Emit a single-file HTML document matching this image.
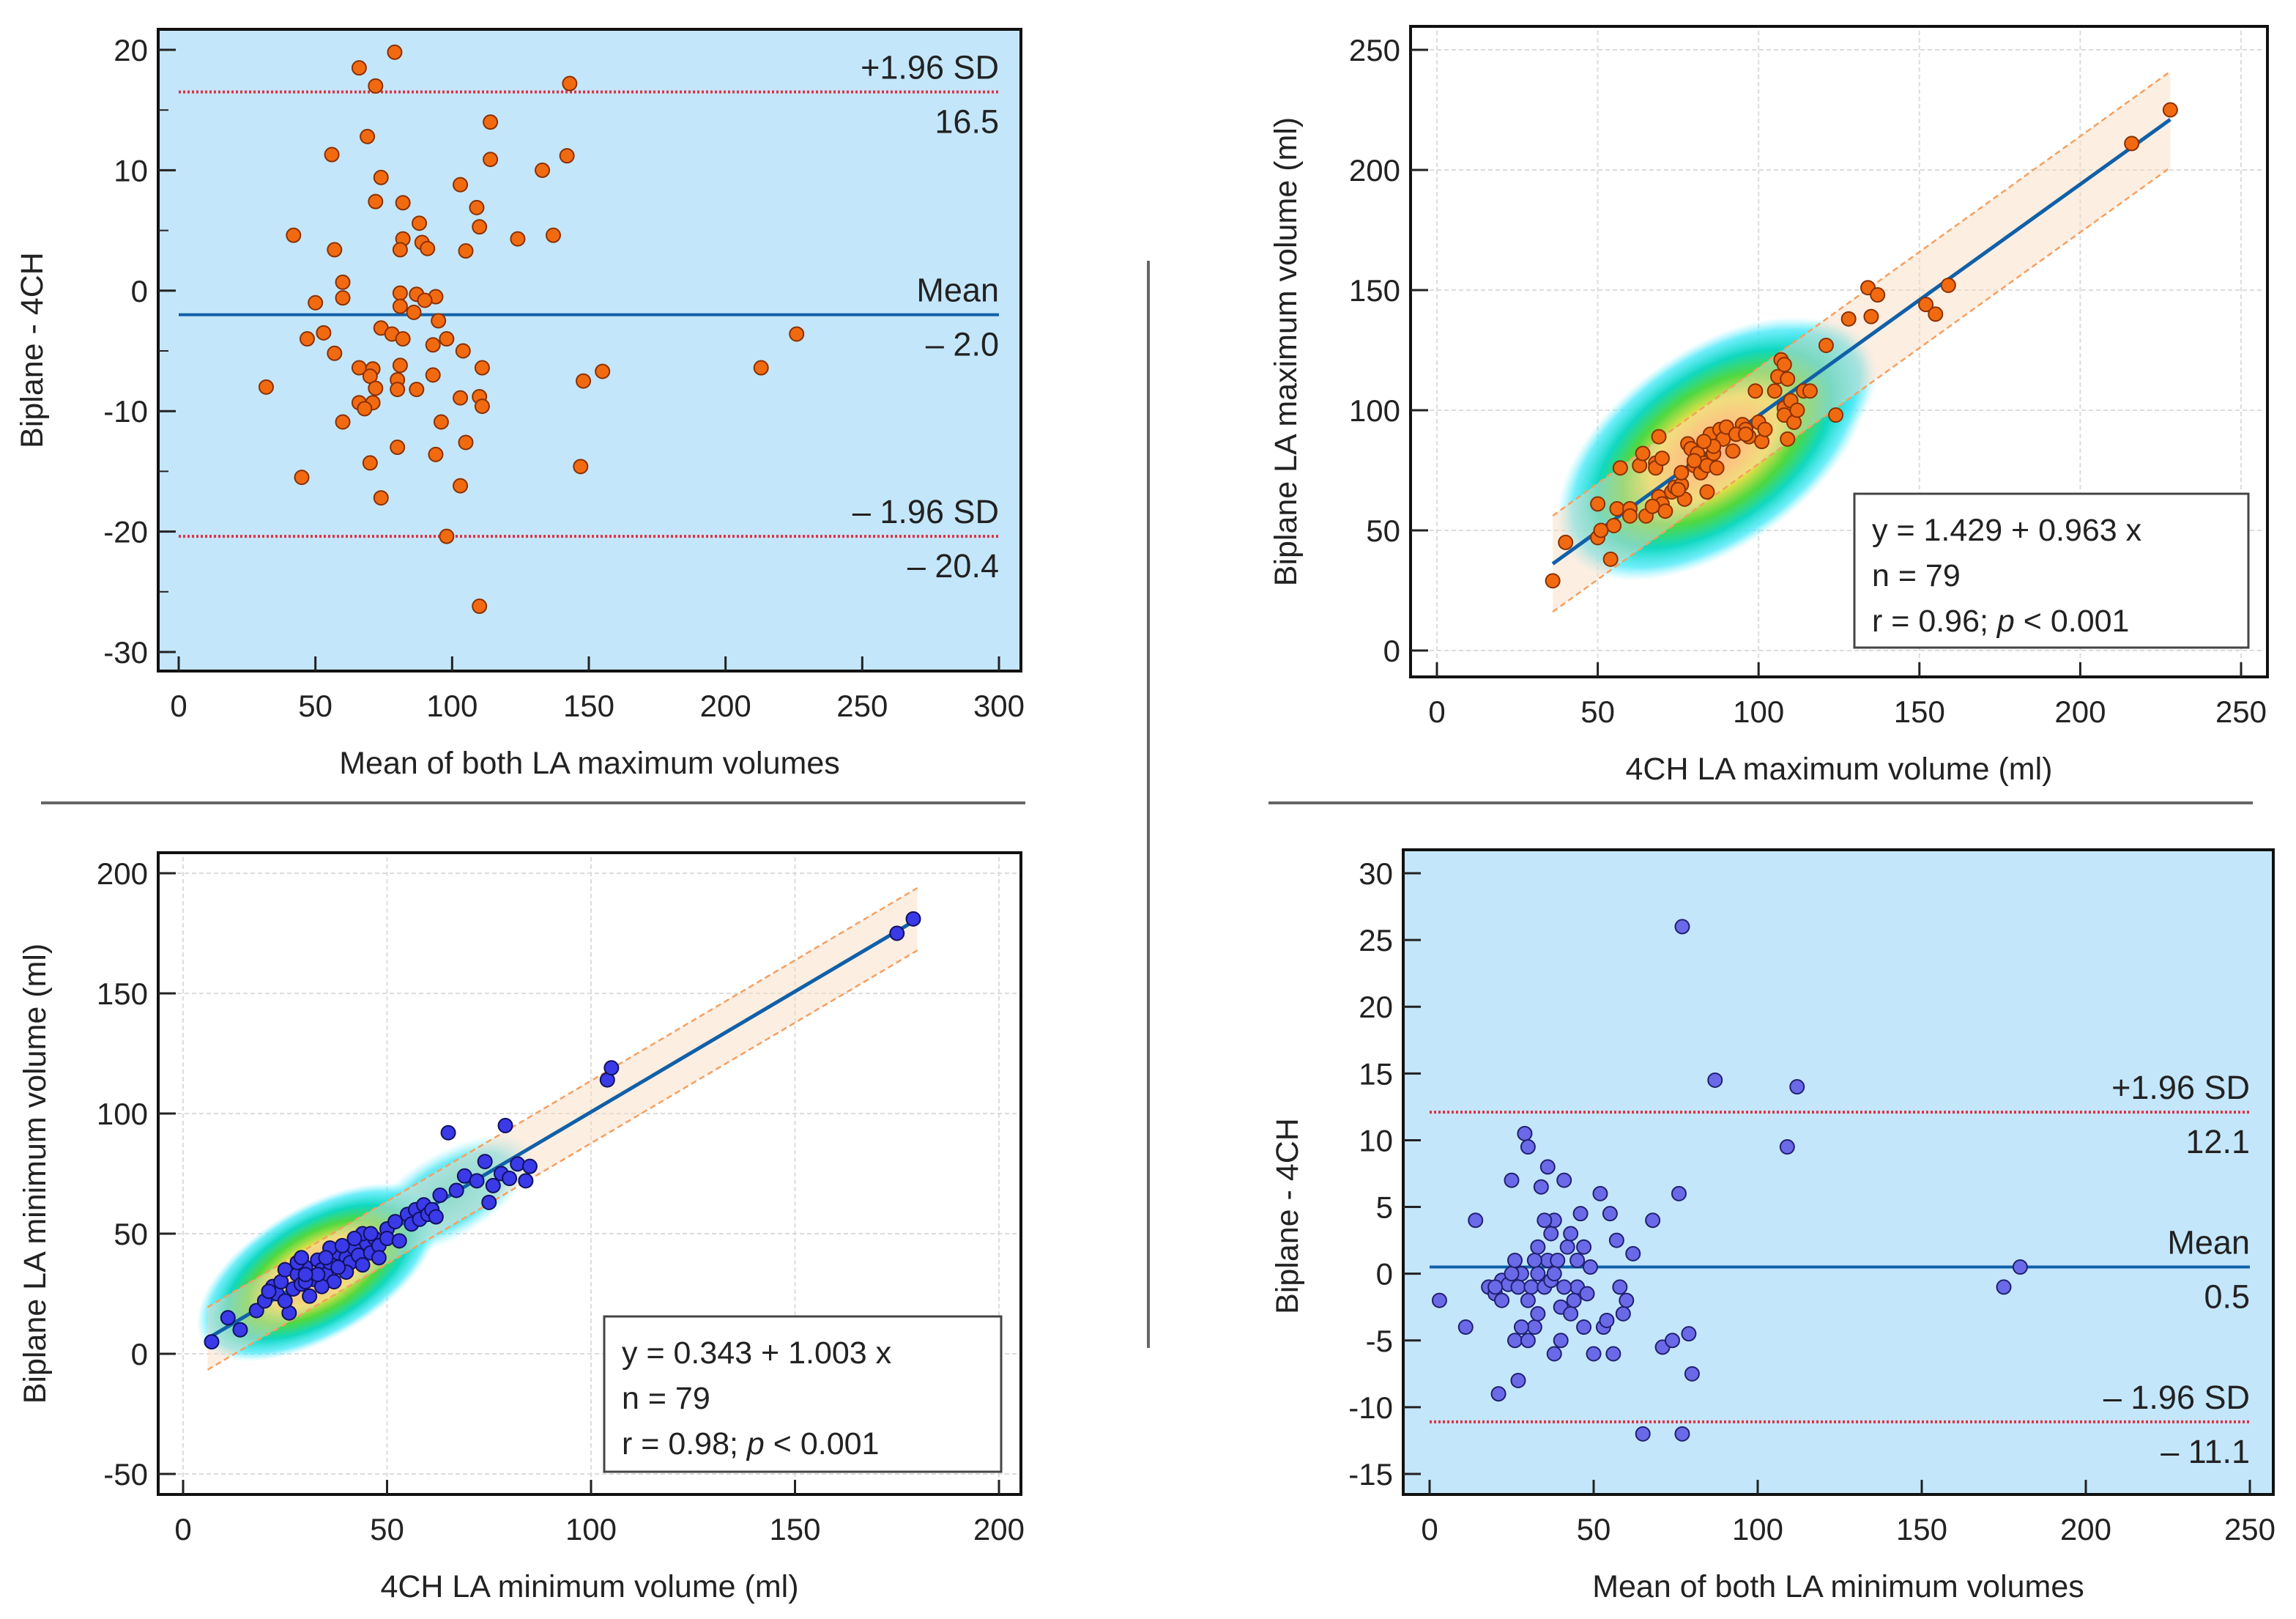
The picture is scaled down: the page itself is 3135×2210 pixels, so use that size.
<!DOCTYPE html>
<html><head><meta charset="utf-8"><style>
html,body{margin:0;padding:0;background:#fff;}
svg{display:block;font-family:"Liberation Sans",Arial,sans-serif;}
</style></head><body>
<svg id="fig" width="3135" height="2210" viewBox="0 0 3135 2210" xmlns="http://www.w3.org/2000/svg">
<defs>
<radialGradient id="heat" cx="50%" cy="50%" r="50%">
<stop offset="0" stop-color="#ff8a50"/>
<stop offset="0.2" stop-color="#ffb050"/>
<stop offset="0.4" stop-color="#e8e048"/>
<stop offset="0.58" stop-color="#50d840"/>
<stop offset="0.75" stop-color="#10d8c0"/>
<stop offset="0.9" stop-color="#40e8f8" stop-opacity="0.75"/>
<stop offset="1" stop-color="#80f0ff" stop-opacity="0"/>
</radialGradient>
<radialGradient id="heat2" cx="50%" cy="50%" r="50%">
<stop offset="0" stop-color="#20d8d0" stop-opacity="0.9"/>
<stop offset="0.7" stop-color="#30e0f0" stop-opacity="0.7"/>
<stop offset="1" stop-color="#80f0ff" stop-opacity="0"/>
</radialGradient>
</defs>
<g id="root"></g>
</svg>
<script>
// ---------- data ----------
const p1X=[66,79,72,143,114,69,56,114,142,133,74,103,72,82,109,88,110,42,82,89,124,137,57,81,91,105,60,60,50,81,87,94,90,81,86,95,74,78,53,47,82,98,93,104,57,66,71,81,111,213,226,155,70,93,148,72,80,80,87,110,66,71,68,103,111,60,96,105,80,94,70,147,45,103,74,98,110,32];
const p1Y=[18.5,19.8,17,17.2,14,12.8,11.3,10.9,11.2,10,9.4,8.8,7.4,7.3,6.9,5.6,5.3,4.6,4.3,4,4.3,4.6,3.4,3.4,3.5,3.3,0.7,-0.6,-1,-0.2,-0.3,-0.5,-0.8,-1.3,-1.8,-2.5,-3.1,-3.6,-3.5,-4,-4,-4,-4.5,-5,-5.2,-6.4,-6.5,-6.2,-6.4,-6.4,-3.6,-6.7,-7.1,-7,-7.5,-8.1,-7.4,-8.2,-8.2,-8.8,-9.3,-9.3,-9.8,-8.9,-9.6,-10.9,-10.9,-12.6,-13,-13.6,-14.3,-14.6,-15.5,-16.2,-17.2,-20.4,-26.2,-8];
const p1Lines=[16.5,-2.0,-20.4];

const p2X=[36,40,50,50,51,54,55,56,57,60,60,63,64,65,68,68,69,69,70,71,73,74,76,76,77,78,79,80,81,82,83,84,84,85,86,87,88,89,90,92,95,96,97,99,100,101,102,105,106,107,108,108,108,109,109,110,111,112,114,116,121,124,128,134,135,137,152,155,159,216,228,80,86,93,75,67,83,96,70];
const p2Y=[29,45,47,61,50,38,52,59,76,59,56,77,82,56,78,76,89,64,61,58,66,68,69,74,63,86,84,77,82,74,78,66,77,90,82,76,92,88,93,83,94,92,89,108,95,87,92,108,114,121,119,101,98,88,113,104,95,100,108,108,127,98,138,151,139,148,144,140,152,211,225,79,85,90,67,60,87,90,80];
const p2Fit=[1.429,0.963];

const p3X=[7,11,14,18,20,22,23,24,25,26,27,28,29,30,31,32,33,34,35,36,37,38,39,40,41,42,43,44,45,46,47,48,50,50,52,53,55,56,57,58,59,60,61,62,63,65,67,69,72,74,75,76,78,79,80,82,84,85,104,105,175,179,30,34,28,36,40,44,25,21,33,38,46,48,42,29,35,39,30];
const p3Y=[5,15,10,18,22,28,25,30,35,17,27,33,29,36,24,31,39,35,33,38,30,42,36,40,38,44,41,37,46,42,48,45,52,48,55,47,58,54,60,56,62,58,60,57,66,92,68,74,72,80,63,70,75,95,73,79,72,78,114,119,175,181,30,28,38,44,34,50,22,26,33,36,50,40,48,40,40,45,33];
const p3Fit=[0.343,1.003];

const p4X=[3,11,14,18,20,21,22,24,25,26,27,27,28,29,30,30,31,32,33,33,34,35,36,36,37,37,38,38,39,40,40,41,42,43,44,45,46,47,48,49,50,52,53,54,55,56,57,58,59,62,65,68,71,74,76,77,77,79,80,87,109,112,175,180,25,33,41,30,35,28,45,22,60,38,20,32,43,26,47];
const p4Y=[-2,-4,4,-1,-1.5,-9,-0.5,-0.8,7,-5,-1,-8,0,10.5,9.5,-5,-1,-4,-3,0,6.5,-1,1,8,3,-0.5,4,-6,1,-2.5,-5,7,2,-3,-2,-1,4.5,2,-1.5,0.5,-6,6,-4,-3.5,4.5,-6,2.5,-1,-3,1.5,-12,4,-5.5,-5,6,26,-12,-4.5,-7.5,14.5,9.5,14,-1,0.5,0,2,-1,-2,4,-4,1,-2,-2,0,-1,1,3,1,-4];
const p4Lines=[12.1,0.5,-11.1];

const p1XTicks=[0,50,100,150,200,250,300];
const p1YTicks=[20,10,0,-10,-20,-30];
const p2XTicks=[0,50,100,150,200,250];
const p2YTicks=[0,50,100,150,200,250];
const p3XTicks=[0,50,100,150,200];
const p3YTicks=[-50,0,50,100,150,200];
const p4XTicks=[0,50,100,150,200,250];
const p4YTicks=[30,25,20,15,10,5,0,-5,-10,-15];

// ---------- helpers ----------
const NS="http://www.w3.org/2000/svg";
const root=document.getElementById('root');
function mk(tag,attrs,parent){const e=document.createElementNS(NS,tag);for(const k in attrs)e.setAttribute(k,attrs[k]);(parent||root).appendChild(e);return e;}
function scale(d0,d1,r0,r1){return v=>r0+(v-d0)/(d1-d0)*(r1-r0);}

function panel(cfg){
  const g=mk('g',{});
  
  
  const sx=scale(cfg.xd[0],cfg.xd[1],cfg.xr[0],cfg.xr[1]);
  const sy=scale(cfg.yd[0],cfg.yd[1],cfg.yr[0],cfg.yr[1]);
  const b=cfg.box;
  const bg=mk('rect',{x:b[0],y:b[1],width:b[2]-b[0],height:b[3]-b[1],fill:cfg.bg},g);
  
  
  if(cfg.grid){
    cfg.xt.forEach(t=>{const l=mk('line',{x1:sx(t),x2:sx(t),y1:b[1]+6,y2:b[3]-6,stroke:'#dcdcdc','stroke-width':2,'stroke-dasharray':'6 4'},g);
      });
    cfg.yt.forEach(t=>{const l=mk('line',{x1:b[0]+6,x2:b[2]-6,y1:sy(t),y2:sy(t),stroke:'#dcdcdc','stroke-width':2,'stroke-dasharray':'6 4'},g);
      });
  }
  return {g,sx,sy};
}
function frame(p,cfg){
  const b=cfg.box,g=p.g,sx=p.sx,sy=p.sy;
  const fr=mk('rect',{x:b[0],y:b[1],width:b[2]-b[0],height:b[3]-b[1],fill:'none',stroke:'#111','stroke-width':4},g);
  
  cfg.xt.forEach(t=>{
    const tk=mk('line',{x1:sx(t),x2:sx(t),y1:b[3],y2:b[3]-20,stroke:'#222','stroke-width':3},g);
    
    const tx=mk('text',{x:sx(t),y:b[3]+62,'font-size':42,'text-anchor':'middle',fill:'#222'},g);tx.textContent=t;
    
  });
  cfg.yt.forEach(t=>{
    const tk=mk('line',{x1:b[0],x2:b[0]+24,y1:sy(t),y2:sy(t),stroke:'#222','stroke-width':3},g);
    
    const tx=mk('text',{x:b[0]-14,y:sy(t)+15,'font-size':42,'text-anchor':'end',fill:'#222'},g);tx.textContent=t;
    
  });
  if(cfg.minor){for(let i=0;i<cfg.yt.length-1;i++){const m=(cfg.yt[i]+cfg.yt[i+1])/2;
    const tk=mk('line',{x1:b[0],x2:b[0]+14,y1:sy(m),y2:sy(m),stroke:'#222','stroke-width':2},g);
    }}
  const xt=mk('text',{x:(b[0]+b[2])/2+cfg.xtOff,y:b[3]+140,'font-size':43,'text-anchor':'middle',fill:'#222'},g);xt.textContent=cfg.xtitle;
  
  const yx=cfg.ytx,yy=(b[1]+b[3])/2+cfg.ytOff;
  const yt=mk('text',{x:yx,y:yy,'font-size':43,'text-anchor':'middle',fill:'#222',transform:`rotate(-90 ${yx} ${yy})`},g);yt.textContent=cfg.ytitle;
  
}
function dots(p,xs,ys,fill,stroke){
  xs.forEach((x,i)=>{const c=mk('circle',{cx:p.sx(x),cy:p.sy(ys[i]),r:9.5,fill:fill,stroke:stroke,'stroke-width':2},p.g);
    });
}
function blandLines(p,cfg,vals){
  const b=cfg.box,x1=p.sx(cfg.lineX[0]),x2=p.sx(cfg.lineX[1]);
  const names=['upper-limit-line','mean-line','lower-limit-line'];
  vals.forEach((v,i)=>{
    const y=p.sy(v);
    const l=mk('line',{x1:x1,x2:x2,y1:y,y2:y,stroke:i==1?'#1060a8':'#e03040','stroke-width':4,'stroke-dasharray':i==1?'none':'3 3'},p.g);
    
    const lab=[ '+1.96 SD','Mean','\u2013 1.96 SD'][i];
    const val=i==0?v.toFixed(1):(v<0?'\u2013 '+Math.abs(v).toFixed(1):v.toFixed(1));
    const t1=mk('text',{x:x2,y:y-18,'font-size':45,'text-anchor':'end',fill:'#222'},p.g);t1.textContent=lab;
    
    const t2=mk('text',{x:x2,y:y+56,'font-size':45,'text-anchor':'end',fill:'#222'},p.g);t2.textContent=val;
    
  });
}
function regression(p,fit,xr,band,heat){
  const f=x=>fit[0]+fit[1]*x;
  const c=[p.sx(heat.c[0]),p.sy(heat.c[1])];
  const ang=Math.atan2(p.sy(f(heat.c[0]+10))-p.sy(f(heat.c[0])),p.sx(heat.c[0]+10)-p.sx(heat.c[0]))*180/Math.PI;
  heat.extra.forEach(e=>{const cc=[p.sx(e.c[0]),p.sy(e.c[1])];
    const el=mk('ellipse',{cx:cc[0],cy:cc[1],rx:e.rx,ry:e.ry,fill:'url(#heat2)',transform:`rotate(${ang} ${cc[0]} ${cc[1]})`},p.g);
    });
  const he=mk('ellipse',{cx:c[0],cy:c[1],rx:heat.rx,ry:heat.ry,fill:'url(#heat)',transform:`rotate(${ang} ${c[0]} ${c[1]})`},p.g);
  
  const pts=[[xr[0],f(xr[0])+band],[xr[1],f(xr[1])+band],[xr[1],f(xr[1])-band],[xr[0],f(xr[0])-band]].map(q=>p.sx(q[0])+','+p.sy(q[1])).join(' ');
  const bd=mk('polygon',{points:pts,fill:'#fbd9bf','fill-opacity':0.45},p.g);
  
  [band,-band].forEach(o=>{const l=mk('line',{x1:p.sx(xr[0]),y1:p.sy(f(xr[0])+o),x2:p.sx(xr[1]),y2:p.sy(f(xr[1])+o),stroke:'#f5a060','stroke-width':2.5,'stroke-dasharray':'8 5'},p.g);
    });
  return ()=>{const l=mk('line',{x1:p.sx(xr[0]),y1:p.sy(f(xr[0])),x2:p.sx(xr[1]),y2:p.sy(f(xr[1])),stroke:'#1060a8','stroke-width':5},p.g);
    };
}
function legend(p,box,lines){
  const r=mk('rect',{x:box[0],y:box[1],width:box[2]-box[0],height:box[3]-box[1],fill:'#fff',stroke:'#444','stroke-width':3},p.g);
  
  lines.forEach((s,i)=>{const t=mk('text',{x:box[0]+24,y:box[1]+64+i*62,'font-size':43,fill:'#222'},p.g);
    t.innerHTML=s;});
}

// ---------- panel 1 ----------
const c1={name:'bland-altman-max',box:[216,40,1394,916],xd:[0,300],xr:[244,1364],yd:[20,-30],yr:[68,890],bg:'#c4e6fb',
  xt:p1XTicks,yt:p1YTicks,minor:true,xtitle:'Mean of both LA maximum volumes',xtOff:0,ytitle:'Biplane - 4CH',ytx:58,ytOff:0,lineX:[0,300]};
const P1=panel(c1);blandLines(P1,c1,p1Lines);dots(P1,p1X,p1Y,'#f26a10','#8a3000');frame(P1,c1);

// ---------- panel 2 ----------
const c2={name:'correlation-max',box:[1926,36,3096,924],xd:[0,250],xr:[1962,3060],yd:[0,250],yr:[888,68],bg:'#fff',grid:true,
  xt:p2XTicks,yt:p2YTicks,xtitle:'4CH LA maximum volume (ml)',xtOff:0,ytitle:'Biplane LA maximum volume (ml)',ytx:1770,ytOff:0};
const P2=panel(c2);
const rl2=regression(P2,p2Fit,[36,228],20,{c:[86,84],rx:245,ry:135,extra:[{c:[118,113],rx:85,ry:80}]});
rl2();dots(P2,p2X,p2Y,'#f26a10','#8a3000');frame(P2,c2);
legend(P2,[2532,674,3070,884],['y = 1.429 + 0.963 x','n = 79','r = 0.96;  <tspan font-style="italic">p</tspan> &lt; 0.001']);

// ---------- panel 3 ----------
const c3={name:'correlation-min',box:[216,1164,1394,2040],xd:[0,200],xr:[250,1364],yd:[-50,200],yr:[2012,1192],bg:'#fff',grid:true,
  xt:p3XTicks,yt:p3YTicks,xtitle:'4CH LA minimum volume (ml)',xtOff:0,ytitle:'Biplane LA minimum volume (ml)',ytx:62,ytOff:0};
const P3=panel(c3);
const rl3=regression(P3,p3Fit,[6,180],13,{c:[33,34],rx:185,ry:90,extra:[{c:[65,66],rx:130,ry:58}]});
rl3();dots(P3,p3X,p3Y,'#3a3ae8','#101060');frame(P3,c3);
legend(P3,[825,1797,1367,2009],['y = 0.343 + 1.003 x','n = 79','r = 0.98;  <tspan font-style="italic">p</tspan> &lt; 0.001']);

// ---------- panel 4 ----------
const c4={name:'bland-altman-min',box:[1916,1160,3104,2040],xd:[0,250],xr:[1952,3072],yd:[30,-15],yr:[1192,2012],bg:'#c4e6fb',
  xt:p4XTicks,yt:p4YTicks,xtitle:'Mean of both LA minimum volumes',xtOff:0,ytitle:'Biplane - 4CH',ytx:1772,ytOff:60,lineX:[0,250]};
const P4=panel(c4);blandLines(P4,c4,p4Lines);dots(P4,p4X,p4Y,'#6a6ae8','#202070');frame(P4,c4);

// ---------- dividers ----------
[[56,1096,1400,1096],[1732,1096,3076,1096],[1568,356,1568,1840]].forEach(d=>{
  const l=mk('line',{x1:d[0],y1:d[1],x2:d[2],y2:d[3],stroke:'#666','stroke-width':4});
  
  
});
</script>
</body></html>
